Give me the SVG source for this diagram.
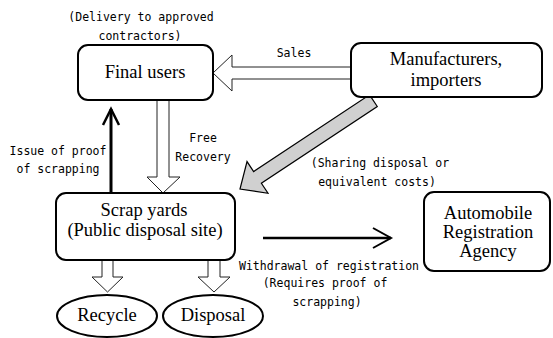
<svg xmlns="http://www.w3.org/2000/svg" width="553" height="338" viewBox="0 0 553 338">
<style>
.box{fill:#fff;stroke:#000;stroke-width:2}
.sf{font-family:'Liberation Serif','DejaVu Serif',serif;font-size:18.5px;fill:#000;text-anchor:middle}
.mono{font-family:'DejaVu Sans Mono','Liberation Mono',monospace;font-size:11.5px;fill:#000;text-anchor:middle}
.hollow{fill:#fff;stroke:#222;stroke-width:1}
.blk{fill:none;stroke:#000;stroke-linecap:butt}
</style>
<rect width="553" height="338" fill="#fff"/>
<g id="connectors">
  <polygon class="hollow" points="213,73 232,55 232,67 351,67 351,79 232,79 232,91"/>
  <polygon class="hollow" points="157,100 169,100 169,177 180,177 163,193 147,177 157,177"/>
  <polygon class="hollow" points="102,260 113,260 113,277 123,277 107.5,292 92,277 102,277"/>
  <polygon class="hollow" points="208,260 220,260 220,277 230,277 214,292 198,277 208,277"/>
  <polygon transform="translate(240,189) rotate(-33.5)" fill="#d0d0d0" stroke="#000" stroke-width="1.2" points="0,0 21,-19 21,-7 160,-7 160,7 21,7 21,19"/>
  <line class="blk" x1="111" y1="193" x2="111" y2="109" stroke-width="3"/>
  <polyline class="blk" points="103,125 111,109 119,125" stroke-width="2.5"/>
  <line class="blk" x1="263" y1="238" x2="391" y2="238" stroke-width="2.5"/>
  <polyline class="blk" points="373,228 391,238 373,248" stroke-width="2"/>
  <text class="mono" x="294" y="57">Sales</text>
  <text class="mono" x="203" y="142">Free</text>
  <text class="mono" x="203" y="161">Recovery</text>
  <text class="mono" x="58" y="155">Issue of proof</text>
  <text class="mono" x="58" y="173">of scrapping</text>
  <text class="mono" x="380" y="167">(Sharing disposal or</text>
  <text class="mono" x="377" y="186">equivalent costs)</text>
  <text class="mono" x="329" y="270">Withdrawal of registration</text>
  <text class="mono" x="325" y="287">(Requires proof of</text>
  <text class="mono" x="327" y="306">scrapping)</text>
</g>
<g id="note-delivery">
  <text class="mono" x="141" y="21">(Delivery to approved</text>
  <text class="mono" x="140" y="40">contractors)</text>
</g>
<g id="final-users">
  <rect class="box" x="78" y="45" width="135" height="55" rx="10"/>
  <text class="sf" x="145" y="78">Final users</text>
</g>
<g id="manufacturers">
  <rect class="box" x="351" y="43" width="191" height="54" rx="10"/>
  <text class="sf" x="446" y="65">Manufacturers,</text>
  <text class="sf" x="446" y="86">importers</text>
</g>
<g id="scrap-yards">
  <rect class="box" x="56" y="193" width="179" height="67" rx="10"/>
  <text class="sf" x="144" y="216">Scrap yards</text>
  <text class="sf" x="145" y="236">(Public disposal site)</text>
</g>
<g id="registration-agency">
  <rect class="box" x="424" y="192" width="126" height="79" rx="10"/>
  <text class="sf" x="488" y="219">Automobile</text>
  <text class="sf" x="488" y="238">Registration</text>
  <text class="sf" x="488" y="257">Agency</text>
</g>
<g id="recycle">
  <ellipse class="box" cx="107" cy="316" rx="50" ry="21"/>
  <text class="sf" x="107" y="321">Recycle</text>
</g>
<g id="disposal">
  <ellipse class="box" cx="213" cy="316" rx="50" ry="21"/>
  <text class="sf" x="213" y="321">Disposal</text>
</g>
</svg>
